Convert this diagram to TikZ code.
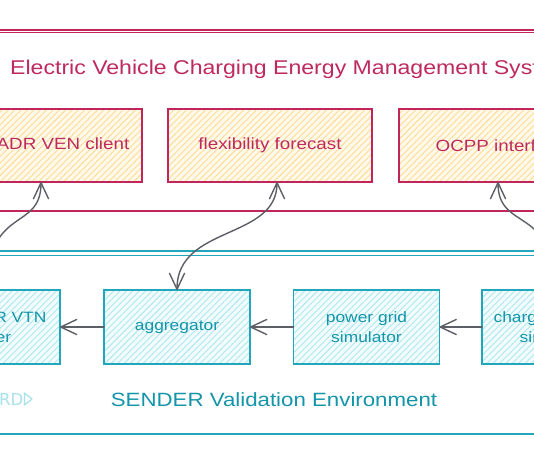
\documentclass[tikz,border=0pt]{standalone}
\usepackage{fontspec}
\setmainfont{Liberation Sans}[FakeStretch=1.16]
\newfontfamily\logofont{DejaVu Sans}
\usetikzlibrary{arrows.meta,patterns.meta,calc}
\definecolor{pinkline}{HTML}{C2255C}
\definecolor{pinktext}{HTML}{BE2A5E}
\definecolor{yellowfill}{HTML}{FFF9EA}
\definecolor{yellowhatch}{HTML}{FFDC96}
\definecolor{tealline}{HTML}{22A6BC}
\definecolor{tealtext}{HTML}{1495AA}
\definecolor{tealfill}{HTML}{F2FCFD}
\definecolor{tealhatch}{HTML}{AEE8F0}
\definecolor{logoteal}{HTML}{A8E2EA}
\definecolor{arrowgray}{HTML}{5C5F66}
\begin{document}
\begin{tikzpicture}[x=1pt,y=-1pt,
  pinkbox/.style={draw=pinkline, line width=1.5pt,
    preaction={fill=yellowfill},
    pattern={Lines[angle=45,distance=4.5pt,line width=0.9pt]}, pattern color=yellowhatch,
    minimum width=204pt, minimum height=73pt, inner sep=0pt, outer sep=0pt,
    text=pinktext, font=\fontsize{16.2pt}{19pt}\selectfont, align=center},
  tealbox/.style={draw=tealline, line width=1.5pt,
    preaction={fill=tealfill},
    pattern={Lines[angle=45,distance=4.5pt,line width=0.9pt]}, pattern color=tealhatch,
    minimum width=146pt, minimum height=74pt, inner sep=0pt, outer sep=0pt,
    text=tealtext, font=\fontsize{15pt}{20pt}\selectfont, align=center},
  pinktitle/.style={text=pinktext, font=\fontsize{19.9pt}{23pt}\selectfont, inner sep=0pt},
  tealtitle/.style={text=tealtext, font=\fontsize{19.2pt}{23pt}\selectfont, inner sep=0pt},
  arr/.style={draw=arrowgray, line width=1.4pt, line cap=round,
    -{Straight Barb[length=16pt,width=15pt,line width=1.4pt,round]}},
  arrboth/.style={draw=arrowgray, line width=1.4pt, line cap=round,
    {Straight Barb[length=16pt,width=15pt,line width=1.4pt,round]}-{Straight Barb[length=16pt,width=15pt,line width=1.4pt,round]}}
]
\useasboundingbox (0,0) rectangle (534,462);
\clip (0,0) rectangle (534,462);
\fill[white] (0,0) rectangle (534,462);

% outer frames
\draw[draw=pinkline, line width=1.6pt] (-10,30) rectangle (544,211);
\draw[draw=pinkline, line width=0.8pt] (-10,32.2) -- (544,32.2);
\draw[draw=tealline, line width=1.5pt] (-10,251) rectangle (544,434);
\draw[draw=tealline, line width=1.3pt] (-10,255.5) -- (544,255.5);

% titles
\node[pinktitle, anchor=base west] (title) at (10,75) {Electric Vehicle Charging Energy Management System};
\node[tealtitle, anchor=base] (sender) at (274,406) {SENDER Validation Environment};
\node[text=logoteal, font=\logofont\fontsize{16.5pt}{18pt}\selectfont, inner sep=0pt, anchor=base east] (logo) at (23.5,405) {RD};
\draw[draw=logoteal, line width=1.2pt, line join=round] (24.5,393) -- (32,399) -- (24.5,405) -- cycle;

% EMS components
\node[pinkbox] (ven) at (40,145.5) {OpenADR VEN client};
\node[pinkbox] (flex) at (270,145.5) {flexibility forecast};
\node[pinkbox] (ocpp) at (501,145.5) {OCPP interface};

% validation environment components
\node[tealbox] (vtn) at (-13,327) {OpenADR VTN\\server};
\node[tealbox] (agg) at (177,327) {aggregator};
\node[tealbox] (grid) at (366.5,327) {power grid\\simulator};
\node[tealbox] (chg) at (555,327) {charging station\\simulator};

% connectors
\draw[arr] (agg.west) -- (vtn.east);
\draw[arr] (grid.west) -- (agg.east);
\draw[arr] (chg.west) -- (grid.east);
\draw[arr] (vtn.north) .. controls +(0,-85) and +(0,50) .. ([xshift=1pt]ven.south);
\draw[arrboth] (agg.north) .. controls +(0,-65) and +(0,58) .. ([xshift=7pt]flex.south);
\draw[arr] (chg.north) .. controls +(0,-85) and +(0,50) .. ([xshift=-3pt]ocpp.south);
\end{tikzpicture}
\end{document}
